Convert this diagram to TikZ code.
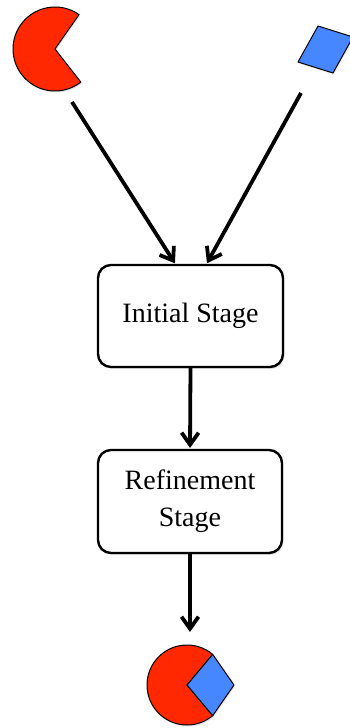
\documentclass[tikz,border=0pt]{standalone}
\usepackage{fontspec}
\setmainfont{Liberation Serif}
\usepackage{xcolor}
\usetikzlibrary{arrows.meta,shadows,calc}

\definecolor{pacRed}{RGB}{255,40,0}
\definecolor{gemBlue}{RGB}{70,135,255}

\tikzset{
    stage/.style={draw, line width=2.4pt, rounded corners=13pt, fill=white, align=center,
        font=\fontsize{28}{37}\selectfont,
        drop shadow={opacity=0.2, shadow xshift=1.5pt, shadow yshift=-2pt}},
    flow/.style={-{Straight Barb[length=12pt,width=17pt]}, line width=3.8pt},
    blob/.style={draw, line width=1pt, line join=round,
        drop shadow={opacity=0.2, shadow xshift=1pt, shadow yshift=-1.5pt}}
}

\begin{document}
\begin{tikzpicture}[x=1pt, y=-1pt, inner sep=0, outer sep=0]

        \useasboundingbox (0,0) rectangle (349,728);

        % inputs
        \coordinate (pacTop) at (55,49);
        \coordinate (gemTop) at (325.5,49.5);
        \coordinate (pacOut) at (72,102);
        \coordinate (gemOut) at (301,93);

        \filldraw [blob, fill=pacRed] (pacTop) -- ++(-55:42) arc[start angle=-55, end angle=-308, radius=42] -- cycle;
        \filldraw [blob, fill=gemBlue] ($(gemTop)+(-27.5,12.5)$) -- ($(gemTop)+(-7.5,-23.5)$) -- ($(gemTop)+(27.5,-12.5)$) -- ($(gemTop)+(7.5,23.5)$) -- cycle;

        % stages
        \node [stage, minimum width=185pt, minimum height=102pt] (init) at (190.5,316) {Initial Stage};
        \node [stage, minimum width=184pt, minimum height=103pt] (refine) at (190,501.5) {Refinement\\Stage};

        % output
        \coordinate (pacBot) at (187,685);
        \filldraw [blob, fill=pacRed] (pacBot) -- ++(-50:40) arc[start angle=-50, end angle=-310, radius=40] -- cycle;
        \filldraw [blob, fill=gemBlue] (pacBot) -- ++(-50:40) -- (234,685) -- ($(pacBot)+(50:40)$) -- cycle;
        \coordinate (pacIn) at (190,632);

        \draw [flow, shorten >=2pt] (pacOut) -- ([xshift=-14.5pt]init.north);
        \draw [flow, shorten >=2pt] (gemOut) -- ([xshift=15.5pt]init.north);
        \draw [flow, shorten >=2pt] (init.south) -- (refine.north);
        \draw [flow] (refine.south) -- (pacIn);

        \end{tikzpicture}
\end{document}
